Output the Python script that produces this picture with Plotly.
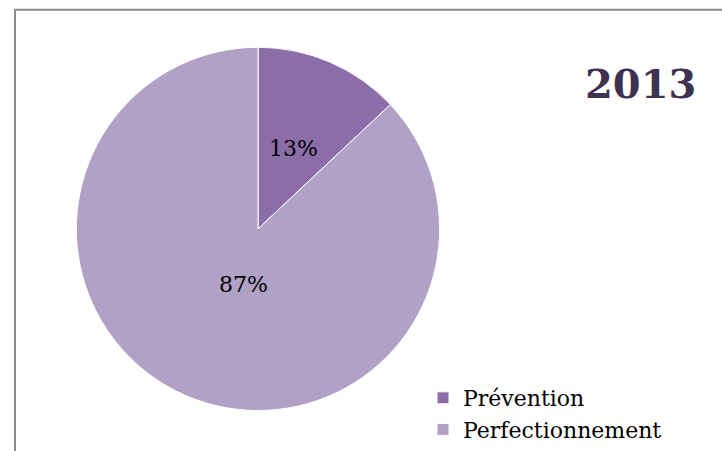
import math
import plotly.graph_objects as go

categories = ["Prévention", "Perfectionnement"]
values = [13, 87]
colors = ["#8B6DA7", "#B1A1C7"]
title_text = "2013"

W, H = 722, 451
# pie geometry in pixels
CX, CY, R = 258, 229, 182
DOM_R, DOM_CY = 184.5, 232.5   # domain compensating plotly's inner padding
label_frac = [0.495, 0.32]     # radial position of labels (fraction of radius)
label_dang = [0.0, -9.0]       # angular nudge of labels (degrees)

fig = go.Figure(go.Pie(
    labels=categories,
    values=values,
    sort=False,
    direction="clockwise",
    rotation=0,
    marker=dict(colors=colors, line=dict(color="#FFFFFF", width=1)),
    textinfo="none",
    domain=dict(x=[(CX - DOM_R) / W, (CX + DOM_R) / W],
                y=[1 - (DOM_CY + DOM_R) / H, 1 - (DOM_CY - DOM_R) / H]),
    hoverinfo="label+percent",
))

total = sum(values)
annotations = []
start = 0.0
for v, f, da in zip(values, label_frac, label_dang):
    frac = v / total
    mid = (start + frac / 2) * 360 + da
    start += frac
    px = CX + f * R * math.sin(math.radians(mid))
    py = CY - f * R * math.cos(math.radians(mid))
    annotations.append(dict(
        text=f"{round(frac * 100)}%", x=px / W, y=1 - py / H,
        xref="paper", yref="paper", xanchor="center", yanchor="middle",
        showarrow=False, yshift=-4,
        font=dict(family="DejaVu Serif", size=22, color="#000000"),
    ))

annotations.append(dict(
    text="<b>" + title_text + "</b>",
    x=640 / W, y=1 - 85 / H, xref="paper", yref="paper",
    xanchor="center", yanchor="middle", showarrow=False,
    font=dict(family="DejaVu Serif", size=40, color="#3F3151"),
))

fig.update_layout(
    width=W, height=H,
    margin=dict(l=0, r=0, t=0, b=0),
    paper_bgcolor="#FFFFFF",
    plot_bgcolor="#FFFFFF",
    showlegend=True,
    legend=dict(
        x=423 / W, y=1 - 383 / H, xanchor="left", yanchor="top",
        font=dict(family="DejaVu Serif", size=22, color="#000000"),
        bgcolor="rgba(0,0,0,0)",
        itemwidth=30,
    ),
    annotations=annotations,
    shapes=[dict(
        type="rect", xref="paper", yref="paper",
        x0=15 / W, x1=1.05, y0=-0.05, y1=1 - 10 / H,
        line=dict(color="#8C8C8C", width=2), fillcolor="rgba(0,0,0,0)",
        layer="below",
    )],
)

fig.write_html(
    "out.html",
    config={"displayModeBar": False},
    post_script="document.body.style.margin='0';document.body.style.overflow='hidden';",
)
